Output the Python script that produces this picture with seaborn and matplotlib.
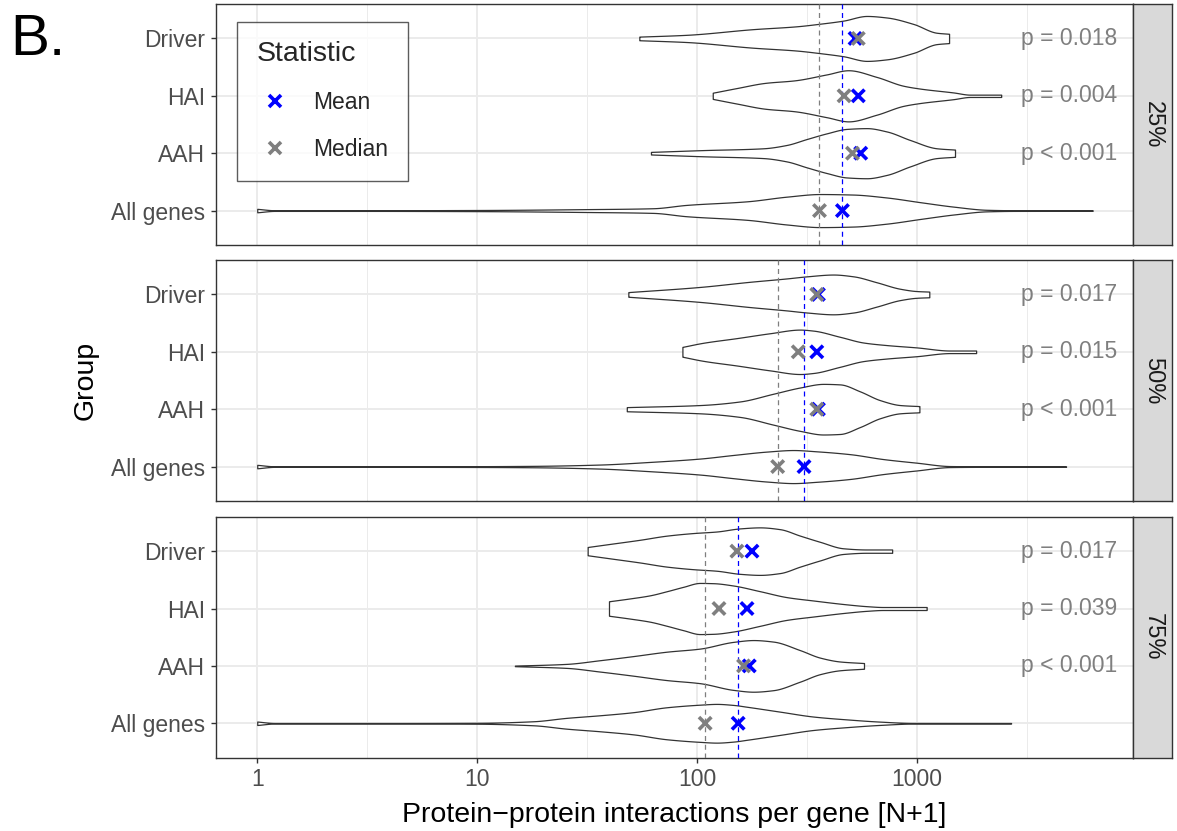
import numpy as np
import pandas as pd
import matplotlib
matplotlib.use("Agg")
import matplotlib.pyplot as plt
import seaborn as sns
from matplotlib.lines import Line2D

# ---------------------------------------------------------------- data
groups = ["Driver", "HAI", "AAH", "All genes"]
thresholds = ["25%", "50%", "75%"]

# mean / median protein-protein interactions per gene (N+1), order = groups
mean_25 = [524, 542, 556, 459]
median_25 = [542, 467, 510, 361]
mean_50 = [357, 351, 357, 307]
median_50 = [351, 289, 351, 233]
mean_75 = [178, 169, 173, 154]
median_75 = [152, 126, 163, 109]

# p-values for Driver, HAI, AAH versus all genes
p_25 = ["p = 0.018", "p = 0.004", "p < 0.001"]
p_50 = ["p = 0.017", "p = 0.015", "p < 0.001"]
p_75 = ["p = 0.017", "p = 0.039", "p < 0.001"]

# violin density profiles: log10(N+1) nodes and relative density (max = 1)
driver_25_at = [1.738, 1.954, 2.257, 2.454, 2.560, 2.666, 2.773, 2.864, 2.985, 3.091, 3.147]
driver_25_density = [0.07, 0.14, 0.36, 0.47, 0.57, 0.69, 0.87, 0.81, 0.56, 0.22, 0.18]
hai_25_at = [2.072, 2.181, 2.310, 2.446, 2.591, 2.689, 2.818, 2.939, 3.015, 3.167, 3.243, 3.384]
hai_25_density = [0.12, 0.30, 0.50, 0.60, 0.83, 0.99, 0.73, 0.39, 0.28, 0.13, 0.045, 0.045]
aah_25_at = [1.791, 2.029, 2.302, 2.409, 2.500, 2.591, 2.682, 2.773, 2.864, 2.970, 3.091, 3.174]
aah_25_density = [0.05, 0.12, 0.19, 0.32, 0.55, 0.77, 0.94, 0.97, 0.84, 0.51, 0.19, 0.14]
all_25_at = [0.0, 0.08, 0.5, 1.0, 1.5, 1.8, 1.954, 2.23, 2.41, 2.56, 2.71, 2.86, 3.02, 3.17, 3.32, 3.45, 3.80]
all_25_density = [0.067, 0.013, 0.013, 0.022, 0.056, 0.09, 0.22, 0.36, 0.54, 0.64, 0.62, 0.51, 0.32, 0.15, 0.03, 0.013, 0.011]

driver_50_at = [1.688, 2.014, 2.242, 2.409, 2.500, 2.621, 2.712, 2.818, 2.924, 3.000, 3.057]
driver_50_density = [0.09, 0.29, 0.49, 0.62, 0.70, 0.77, 0.70, 0.47, 0.22, 0.13, 0.11]
hai_50_at = [1.934, 2.029, 2.181, 2.333, 2.469, 2.530, 2.651, 2.757, 2.864, 3.000, 3.152, 3.270]
hai_50_density = [0.19, 0.35, 0.53, 0.72, 0.86, 0.82, 0.58, 0.36, 0.26, 0.17, 0.05, 0.05]
aah_50_at = [1.681, 2.014, 2.196, 2.348, 2.469, 2.575, 2.651, 2.742, 2.833, 2.924, 3.012]
aah_50_density = [0.08, 0.16, 0.30, 0.60, 0.84, 0.98, 0.96, 0.69, 0.35, 0.16, 0.12]
all_50_at = [0.0, 0.08, 0.6, 1.0, 1.25, 1.559, 1.787, 2.014, 2.166, 2.318, 2.439, 2.545, 2.697, 2.848, 3.0, 3.152, 3.3, 3.679]
all_50_density = [0.067, 0.011, 0.011, 0.016, 0.027, 0.078, 0.18, 0.31, 0.45, 0.58, 0.64, 0.59, 0.48, 0.29, 0.15, 0.02, 0.011, 0.009]

driver_75_at = [1.503, 1.605, 1.741, 1.863, 1.984, 2.090, 2.196, 2.287, 2.378, 2.469, 2.560, 2.666, 2.773, 2.888]
driver_75_density = [0.16, 0.28, 0.44, 0.60, 0.70, 0.76, 0.88, 0.92, 0.85, 0.60, 0.36, 0.11, 0.064, 0.064]
hai_75_at = [1.600, 1.695, 1.786, 1.863, 1.938, 2.014, 2.075, 2.166, 2.287, 2.409, 2.530, 2.682, 2.773, 2.848, 3.045]
hai_75_density = [0.28, 0.39, 0.51, 0.67, 0.84, 0.99, 0.98, 0.89, 0.67, 0.44, 0.31, 0.16, 0.09, 0.058, 0.058]
aah_75_at = [1.172, 1.408, 1.559, 1.711, 1.863, 2.014, 2.166, 2.257, 2.348, 2.469, 2.560, 2.651, 2.760]
aah_75_density = [0.011, 0.078, 0.22, 0.38, 0.55, 0.67, 0.93, 1.0, 0.94, 0.61, 0.32, 0.17, 0.11]
all_75_at = [0.0, 0.08, 0.6, 1.0, 1.256, 1.408, 1.559, 1.711, 1.863, 2.014, 2.09, 2.166, 2.227, 2.378, 2.530, 2.682, 2.833, 2.985, 3.429]
all_75_density = [0.067, 0.011, 0.011, 0.018, 0.078, 0.21, 0.31, 0.43, 0.62, 0.72, 0.75, 0.71, 0.64, 0.45, 0.26, 0.15, 0.064, 0.013, 0.011]

# ---------------------------------------------------------------- panel tables
panels = [
    dict(label="25%", mean=mean_25, median=median_25, p=p_25,
         shapes=[(driver_25_at, driver_25_density), (hai_25_at, hai_25_density),
                 (aah_25_at, aah_25_density), (all_25_at, all_25_density)]),
    dict(label="50%", mean=mean_50, median=median_50, p=p_50,
         shapes=[(driver_50_at, driver_50_density), (hai_50_at, hai_50_density),
                 (aah_50_at, aah_50_density), (all_50_at, all_50_density)]),
    dict(label="75%", mean=mean_75, median=median_75, p=p_75,
         shapes=[(driver_75_at, driver_75_density), (hai_75_at, hai_75_density),
                 (aah_75_at, aah_75_density), (all_75_at, all_75_density)]),
]

# ---------------------------------------------------------------- style
sns.set_theme(style="white")
plt.rcParams["font.family"] = ["Liberation Sans", "DejaVu Sans"]

STAT_COLORS = {"Mean": "#0000FF", "Median": "#7F7F7F"}
GRID = "#EBEBEB"
DARK = "#333333"
TICK_TXT = "#4D4D4D"
VIOLIN_HALF = 0.45          # half-width of the widest violin, in row units
P_TEXT_X = 2970             # left edge of p-value labels (data units)
XMIN, XMAX = 10 ** -0.189, 10 ** 3.985

W, H = 1177, 831
fig = plt.figure(figsize=(W / 100, H / 100), dpi=100)


def fx(px):
    return px / W


def fy(py):
    return 1 - py / H


def pchip(xk, yk, xq):
    """Monotone cubic interpolation used to smooth violin outlines."""
    xk = np.asarray(xk, float)
    yk = np.asarray(yk, float)
    h = np.diff(xk)
    d = np.diff(yk) / h
    m = np.zeros_like(yk)
    m[0], m[-1] = d[0], d[-1]
    for k in range(1, len(yk) - 1):
        if d[k - 1] * d[k] > 0:
            w1 = 2 * h[k] + h[k - 1]
            w2 = h[k] + 2 * h[k - 1]
            m[k] = (w1 + w2) / (w1 / d[k - 1] + w2 / d[k])
    idx = np.clip(np.searchsorted(xk, xq) - 1, 0, len(h) - 1)
    t = (xq - xk[idx]) / h[idx]
    h00 = 2 * t**3 - 3 * t**2 + 1
    h10 = t**3 - 2 * t**2 + t
    h01 = -2 * t**3 + 3 * t**2
    h11 = t**3 - t**2
    return (h00 * yk[idx] + h10 * h[idx] * m[idx]
            + h01 * yk[idx + 1] + h11 * h[idx] * m[idx + 1])


def draw_violin(ax, pos, at, dens):
    grid = np.linspace(at[0], at[-1], 600)
    half = np.clip(pchip(at, dens, grid), 0.004, None) * VIOLIN_HALF
    ax.fill_between(10 ** grid, pos - half, pos + half, facecolor="white",
                    edgecolor=DARK, linewidth=0.9, zorder=2)


panel_tops = [4.0, 260.0, 516.7]
panel_h = 241.0
left_px, right_px, strip_right_px = 215.7, 1133.3, 1172.0

axes = []
for i, pnl in enumerate(panels):
    top = panel_tops[i]
    ax = fig.add_axes([fx(left_px), fy(top + panel_h),
                       fx(right_px - left_px), panel_h / H])
    axes.append(ax)
    ax.set_xscale("log")
    ax.set_axisbelow(True)

    positions = np.arange(len(groups))
    for pos, (at, dens) in zip(positions, pnl["shapes"]):
        draw_violin(ax, pos, at, dens)

    # reference lines at the all-genes median and mean
    ax.axvline(pnl["median"][-1], color=STAT_COLORS["Median"], lw=0.9,
               ls=(0, (4, 3)), zorder=3)
    ax.axvline(pnl["mean"][-1], color=STAT_COLORS["Mean"], lw=0.9,
               ls=(0, (4, 3)), zorder=3)

    stats = pd.DataFrame({
        "value": list(pnl["mean"]) + list(pnl["median"]),
        "pos": list(positions) * 2,
        "Statistic": ["Mean"] * len(groups) + ["Median"] * len(groups),
    })
    sns.scatterplot(data=stats, x="value", y="pos", hue="Statistic",
                    palette=STAT_COLORS, marker="x", s=80, linewidth=2.6,
                    legend=False, ax=ax, zorder=4)

    for pos, txt in zip(positions[:3], pnl["p"]):
        ax.text(P_TEXT_X, pos, txt, ha="left", va="center", fontsize=16.5,
                color="#7F7F7F", zorder=3)

    ax.set_xlim(XMIN, XMAX)
    ax.set_ylim(len(groups) - 0.4, -0.6)
    ax.set_xticks([1, 10, 100, 1000])
    ax.set_xticks([10 ** 0.5, 10 ** 1.5, 10 ** 2.5, 10 ** 3.5], minor=True)
    ax.set_xticklabels(["1", "10", "100", "1000"])
    ax.set_yticks(positions)
    ax.set_yticklabels(groups)
    ax.set_xlabel("")
    ax.set_ylabel("")
    ax.grid(which="major", color=GRID, linewidth=1.4)
    ax.grid(which="minor", axis="x", color=GRID, linewidth=0.7)
    ax.tick_params(axis="y", which="major", left=True, length=3.6, width=1.0,
                   color=DARK, pad=4, labelsize=16.5, labelcolor=TICK_TXT)
    ax.tick_params(which="minor", length=0)
    if i == len(panels) - 1:
        ax.tick_params(axis="x", which="major", bottom=True, length=3.6,
                       width=1.0, color=DARK, pad=4, labelsize=16.5,
                       labelcolor=TICK_TXT)
    else:
        ax.tick_params(axis="x", which="major", bottom=False,
                       labelbottom=False)
    for sp in ax.spines.values():
        sp.set_color(DARK)
        sp.set_linewidth(1.0)

    # facet strip on the right
    sax = fig.add_axes([fx(right_px), fy(top + panel_h),
                        fx(strip_right_px - right_px), panel_h / H])
    sax.set_facecolor("#D9D9D9")
    sax.set_xticks([])
    sax.set_yticks([])
    for sp in sax.spines.values():
        sp.set_color(DARK)
        sp.set_linewidth(1.0)
    sax.text(0.5, 0.5, pnl["label"], rotation=-90, ha="center", va="center",
             fontsize=17, color="#1A1A1A", transform=sax.transAxes)

# legend
handles = [Line2D([0], [0], marker="x", color=STAT_COLORS[k], linestyle="none",
                  markersize=9, markeredgewidth=2.6) for k in ["Mean", "Median"]]
leg = axes[0].legend(handles, ["Mean", "Median"], title="Statistic",
                     loc="upper left",
                     bbox_to_anchor=(fx(237.3), fy(21.7)),
                     bbox_transform=fig.transFigure, borderaxespad=0,
                     fontsize=16.5, title_fontsize=20.5, frameon=True,
                     fancybox=False, edgecolor=DARK, borderpad=0.85,
                     handlelength=1.6, handletextpad=0.86, labelspacing=1.05,
                     alignment="left")
leg.get_frame().set_linewidth(1.0)
leg.set_zorder(10)

# axis titles and panel tag
fig.text(fx(674.5), fy(821.7), "Protein\u2212protein interactions per gene [N+1]",
         ha="center", va="baseline", fontsize=20.5, color="black")
fig.text(fx(93), fy(380.5), "Group", rotation=90, rotation_mode="anchor",
         ha="center", va="baseline", fontsize=20.5, color="black")
fig.text(fx(10), fy(55), "B.", ha="left", va="baseline", fontsize=42,
         color="black")

fig.savefig("out.png", dpi=100)
